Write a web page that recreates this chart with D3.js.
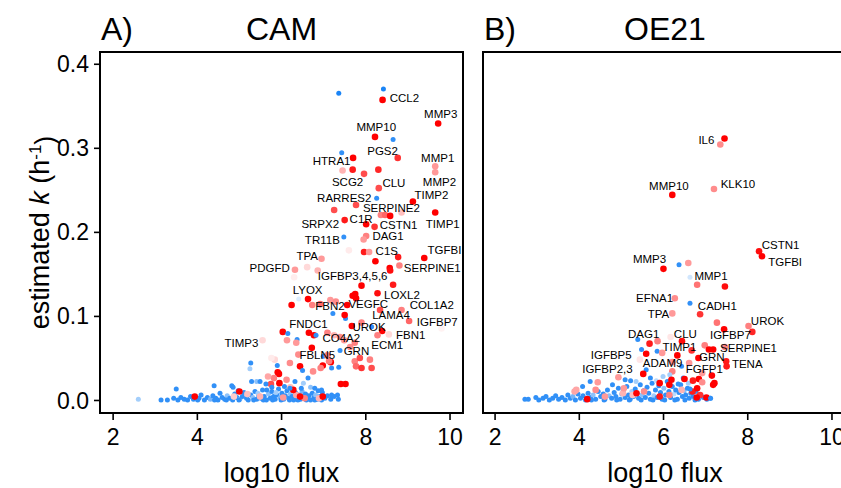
<!DOCTYPE html>
<html><head><meta charset="utf-8">
<script src="https://cdn.jsdelivr.net/npm/d3@7"></script>
<style>
body{margin:0;background:#fff}
svg{display:block}
text{font-family:"Liberation Sans",Arial,Helvetica,sans-serif;fill:#000}
</style>
</head><body>
<svg id="chart" width="841" height="488"></svg>
<script>
// ---------- data ----------
const xTicks = [2, 4, 6, 8, 10];
const yTicks = [0, 0.1, 0.2, 0.3, 0.4];
const panelTags = ["A)", "B)"];
const panelTitles = ["CAM", "OE21"];
const xTitle = "log10 flux";

// [log10 flux, estimated k, fold score (-1 blue .. +1 red)]
const camCloud = [
[3.15,0.000,-0.9],[3.30,0.000,-0.9],[3.45,0.002,-0.9],[3.55,0.000,-0.9],[3.62,0.003,-0.9],[3.70,0.001,-0.9],[3.78,0.000,-0.9],[3.85,0.004,-0.9],[3.92,0.001,-0.9],[4.05,0.002,-0.9],[4.10,0.006,-0.9],[4.18,0.000,-0.9],[4.25,0.003,-0.9],[4.32,0.001,-0.6],[4.38,0.005,-0.9],[4.45,0.002,-0.9],[4.50,0.000,-0.9],[4.55,0.008,-0.9],[4.60,0.003,-0.9],[4.66,0.001,-0.9],[4.72,0.005,-0.5],[4.78,0.002,-0.9],[4.85,0.000,-0.9],[4.90,0.007,-0.9],[4.95,0.003,-0.9],[5.02,0.001,-0.6],[5.08,0.004,-0.9],[5.12,0.009,-0.9],[5.18,0.002,-0.9],[5.22,0.000,-0.9],[5.28,0.006,-0.9],[5.33,0.003,-0.5],[5.38,0.010,-0.9],[5.42,0.001,-0.9],[5.47,0.005,-0.9],[5.52,0.002,-0.9],[5.56,0.012,-0.9],[5.60,0.004,-0.9],[5.65,0.000,-0.9],[5.70,0.007,-0.5],[5.74,0.002,-0.9],[5.78,0.010,-0.9],[5.82,0.004,-0.9],[5.86,0.001,-0.9],[5.90,0.006,-0.9],[5.94,0.013,-0.9],[5.98,0.003,-0.6],[6.02,0.008,-0.9],[6.06,0.001,-0.9],[6.10,0.005,-0.9],[6.14,0.011,-0.9],[6.18,0.002,-0.9],[6.22,0.007,-0.5],[6.26,0.004,-0.9],[6.30,0.000,-0.9],[6.34,0.009,-0.9],[6.38,0.003,-0.9],[6.42,0.006,-0.9],[6.46,0.001,-0.9],[6.50,0.010,-0.6],[6.54,0.004,-0.9],[6.58,0.007,-0.9],[6.62,0.002,-0.9],[6.66,0.005,-0.9],[6.70,0.000,-0.9],[6.74,0.008,-0.9],[6.78,0.003,-0.9],[6.82,0.006,-0.5],[6.86,0.001,-0.9],[6.92,0.004,-0.9],[6.98,0.009,-0.9],[7.04,0.002,-0.9],[7.10,0.005,-0.9],[7.18,0.001,-0.9],[7.26,0.004,-0.9],[7.36,0.001,-0.9],
[4.02,0.000,-0.9],[4.42,0.000,-0.9],[4.70,0.000,-0.9],[5.00,0.000,-0.9],[5.35,0.000,-0.9],[5.58,0.000,-0.9],[5.80,0.000,-0.9],[6.00,0.000,-0.9],[6.20,0.000,-0.9],[6.40,0.000,-0.9],[6.60,0.000,-0.9],[6.80,0.000,-0.9],[6.96,0.000,-0.9],[5.45,0.008,-0.4],[5.88,0.009,-0.4],[6.28,0.012,-0.4],[6.48,0.014,-0.9],[6.08,0.016,-0.9],[5.66,0.012,-0.9],[4.98,0.011,-0.9],[6.88,0.011,-0.9],[6.70,0.015,-0.5],
[5.50,0.004,0.3],[6.05,0.003,0.4],[6.36,0.006,0.35],[6.90,0.002,0.3],[5.20,0.007,0.25],[6.56,0.002,0.5],[4.88,0.004,0.2]
];
const camPoints = [
[7.37,0.365,-1],[8.43,0.370,-1],[8.41,0.357,1],[9.73,0.329,1],[8.23,0.313,1],[8.66,0.310,-0.9],[7.44,0.294,-0.9],[8.77,0.288,0.8],[7.71,0.288,1],[7.46,0.273,0.3],[7.70,0.274,0.9],[7.97,0.269,0.7],[8.31,0.274,0.85],[9.66,0.278,0.4],[9.66,0.271,0.4],[8.32,0.252,0.7],[8.27,0.240,-0.9],[9.13,0.236,1],[7.78,0.232,0.7],[7.26,0.226,0.7],[9.66,0.223,1],[8.37,0.220,0.5],[8.47,0.220,0.6],[8.59,0.219,1],[8.86,0.223,0.25],[7.51,0.214,0.9],[8.02,0.209,1],[8.22,0.206,0.8],[7.49,0.194,-0.9],[8.02,0.195,0.5],[7.96,0.191,0.4],[7.61,0.178,0.08],[7.97,0.176,0.9],[8.09,0.176,0.4],[8.78,0.170,0.9],[9.40,0.169,1],[6.96,0.168,0.4],[8.24,0.165,1],[6.33,0.155,0.4],[6.62,0.158,0.15],[6.31,0.146,0.07],[6.87,0.154,0.3],[8.81,0.160,0.5],[8.58,0.157,1],[8.59,0.154,0.95],[8.66,0.137,0.9],[7.91,0.136,1],[8.29,0.127,0.95],[7.76,0.126,1],[7.78,0.121,1],[6.25,0.113,1],[6.64,0.120,1],[6.42,0.120,-0.15],[6.74,0.113,0.5],[6.93,0.114,0.6],[7.17,0.119,0.4],[7.30,0.117,0.45],[7.57,0.113,1],[7.70,0.124,1],[7.23,0.103,-0.9],[7.53,0.097,-0.9],[7.51,0.101,1],[8.35,0.107,0.7],[8.86,0.107,0.5],[9.04,0.094,0.6],[9.81,0.085,0.05],[7.91,0.092,0.5],[7.68,0.088,1],[8.15,0.087,-0.9],[8.40,0.082,1],[8.29,0.077,0.5],[8.56,0.078,0.15],[6.04,0.081,1],[6.16,0.079,-0.9],[6.38,0.072,-0.9],[6.66,0.080,1],[6.78,0.077,1],[6.83,0.077,-0.9],[7.10,0.080,0.5],[7.26,0.077,0.3],[7.40,0.075,0.45],[7.50,0.071,0.4],[7.64,0.063,0.45],[7.75,0.068,0.5],[7.40,0.059,-0.9],[6.73,0.062,1],[6.36,0.068,0.4],[6.14,0.071,0.4],[5.56,0.071,0.15],[6.41,0.054,0.45],[7.00,0.052,-0.9],[7.10,0.053,0.5],[7.18,0.045,1],[6.99,0.041,1],[6.94,0.038,0.5],[7.37,0.039,-0.9],[7.75,0.046,0.5],[7.87,0.050,0.7],[7.78,0.040,0.6],[7.91,0.038,0.8],[8.11,0.048,0.5],[8.15,0.038,0.7],[6.45,0.040,1],[6.21,0.044,0.45],[5.91,0.041,-0.9],[5.92,0.033,1],[5.95,0.031,1],[5.83,0.026,0.5],[5.69,0.028,0.35],[5.85,0.048,0.15],[5.77,0.050,0.08],[5.28,0.044,-0.9],[5.26,0.037,-0.4],[6.51,0.035,-0.9],[6.64,0.026,-0.9],[7.14,0.046,0.5],[7.20,0.038,-0.9],[7.42,0.019,1],[7.53,0.019,1],[6.33,0.022,-0.9],[5.96,0.020,1],[6.13,0.024,0.45],[6.22,0.015,0.25],[3.95,0.004,1],[2.61,0.001,-0.4],[5.01,0.010,1],[5.76,0.019,0.7],[6.76,0.034,0.45],[6.29,0.012,1],[6.99,0.004,1],[6.45,0.004,1],[3.51,0.013,-0.9],[4.41,0.017,-0.9],[4.83,0.017,-0.9],[5.30,0.022,-0.9],[5.42,0.022,-0.5],[4.86,0.015,-0.9],[5.50,0.022,-0.9],[5.64,0.019,-0.9],[5.78,0.015,-0.9],[6.21,0.014,-0.9],[6.80,0.014,-0.9],[6.96,0.012,-0.9],[7.20,0.006,-0.9],[7.34,0.006,-0.9],[6.53,0.020,-0.4]
];
// [gene, label centre flux, label centre k]
const camLabels = [
["CCL2",8.93,0.359],["MMP3",9.79,0.340],["MMP10",8.26,0.325],["PGS2",8.41,0.296],["HTRA1",7.20,0.284],["MMP1",9.72,0.288],["SCG2",7.58,0.259],["CLU",8.68,0.258],["MMP2",9.76,0.260],["RARRES2",7.50,0.241],["TIMP2",9.57,0.244],["SERPINE2",8.62,0.229],["SRPX2",6.93,0.210],["C1R",7.90,0.216],["CSTN1",8.79,0.208],["TIMP1",9.84,0.210],["TR11B",6.98,0.190],["DAG1",8.54,0.195],["TPA",6.62,0.172],["C1S",8.51,0.177],["TGFBI",9.88,0.179],["PDGFD",5.73,0.157],["SERPINE1",9.59,0.157],["IGFBP3,4,5,6",7.70,0.148],["LYOX",6.63,0.131],["LOXL2",8.87,0.125],["FBN2",7.16,0.112],["VEGFC",8.07,0.114],["COL1A2",9.58,0.113],["LAMA4",8.61,0.101],["IGFBP7",9.71,0.093],["FNDC1",6.65,0.091],["UROK",8.09,0.087],["TIMP3",5.06,0.068],["CO4A2",7.43,0.074],["FBN1",9.08,0.078],["ECM1",8.52,0.065],["FBLN5",6.86,0.054],["GRN",7.79,0.058]
];

const oeCloud = [
[2.72,0.001,-0.9],[2.80,0.001,-0.9],[2.98,0.003,-0.9],[3.05,0.000,-0.9],[3.15,0.002,-0.9],[3.22,0.004,-0.9],[3.30,0.000,-0.9],[3.38,0.002,-0.9],[3.45,0.005,-0.9],[3.52,0.001,-0.9],[3.60,0.003,-0.9],[3.68,0.000,-0.9],[3.74,0.006,-0.9],[3.80,0.002,-0.9],[3.86,0.004,-0.6],[3.92,0.000,-0.9],[3.98,0.007,-0.9],[4.04,0.002,-0.9],[4.10,0.005,-0.9],[4.16,0.000,-0.9],[4.22,0.008,-0.9],[4.28,0.003,-0.9],[4.34,0.006,-0.5],[4.40,0.001,-0.9],[4.46,0.010,-0.9],[4.52,0.004,-0.9],[4.58,0.007,-0.9],[4.62,0.001,-0.9],[4.68,0.012,-0.9],[4.72,0.005,-0.5],[4.78,0.002,-0.9],[4.84,0.009,-0.9],[4.88,0.004,-0.9],[4.94,0.014,-0.9],[4.98,0.001,-0.9],[5.02,0.007,-0.6],[5.06,0.011,-0.9],[5.10,0.003,-0.9],[5.14,0.016,-0.9],[5.18,0.006,-0.9],[5.22,0.001,-0.9],[5.26,0.010,-0.4],[5.30,0.004,-0.9],[5.34,0.013,-0.9],[5.38,0.008,-0.9],[5.42,0.002,-0.9],[5.46,0.018,-0.9],[5.50,0.006,-0.5],[5.54,0.011,-0.9],[5.58,0.003,-0.9],[5.62,0.015,-0.9],[5.66,0.008,-0.9],[5.70,0.001,-0.9],[5.74,0.020,-0.9],[5.78,0.005,-0.4],[5.82,0.012,-0.9],[5.86,0.003,-0.9],[5.90,0.017,-0.9],[5.94,0.009,-0.9],[5.98,0.001,-0.9],[6.02,0.014,-0.5],[6.06,0.006,-0.9],[6.10,0.022,-0.9],[6.14,0.010,-0.9],[6.18,0.003,-0.9],[6.22,0.016,-0.9],[6.26,0.007,-0.3],[6.30,0.012,-0.9],[6.34,0.001,-0.9],[6.38,0.009,-0.9],[6.42,0.018,-0.9],[6.46,0.004,-0.9],[6.50,0.011,-0.5],[6.54,0.006,-0.9],[6.58,0.014,-0.9],[6.62,0.002,-0.9],[6.66,0.008,-0.9],[6.72,0.004,-0.9],[6.78,0.010,-0.9],[6.84,0.001,-0.9],[6.90,0.006,-0.9],[6.96,0.003,-0.9],[7.04,0.001,-0.9],[7.12,0.002,-0.9],
[4.30,0.000,-0.9],[4.60,0.000,-0.9],[4.90,0.000,-0.9],[5.20,0.000,-0.9],[5.48,0.000,-0.9],[5.76,0.000,-0.9],[6.04,0.000,-0.9],[6.28,0.000,-0.9],[6.52,0.000,-0.9],[6.76,0.000,-0.9],[5.36,0.022,-0.4],[5.70,0.026,-0.9],[6.00,0.028,-0.4],[6.20,0.024,-0.5],[5.10,0.024,-0.9],[6.48,0.026,-0.9],[6.60,0.020,-0.4],[5.84,0.023,-0.3],[4.80,0.018,-0.9],
[4.62,0.004,0.4],[5.05,0.008,0.3],[5.55,0.010,0.45],[5.92,0.004,0.9],[6.15,0.006,0.5],[6.44,0.012,0.3],[6.70,0.010,0.9],[4.40,0.012,0.45],[3.90,0.010,0.35],[5.28,0.006,0.25],[6.88,0.006,0.8]
];
const oePoints = [
[7.46,0.311,1],[7.36,0.304,0.45],[7.21,0.251,0.45],[6.22,0.244,1],[8.28,0.177,0.95],[8.35,0.171,1],[6.01,0.156,1],[6.38,0.161,-0.9],[6.60,0.163,0.4],[6.64,0.146,-0.2],[6.81,0.137,0.55],[7.47,0.135,0.95],[6.28,0.121,0.45],[6.64,0.115,-0.9],[6.22,0.103,0.4],[6.88,0.102,0.8],[7.28,0.092,0.55],[7.45,0.084,1],[8.03,0.088,0.5],[8.12,0.081,0.85],[5.40,0.072,-0.9],[5.87,0.070,0.5],[5.68,0.067,0.9],[6.18,0.075,0.1],[6.45,0.070,0.95],[6.68,0.059,0.8],[6.99,0.065,0.5],[7.09,0.060,1],[7.19,0.060,1],[7.47,0.063,0.5],[7.50,0.046,0.9],[7.51,0.040,0.9],[6.84,0.050,1],[5.49,0.060,-0.9],[5.60,0.055,1],[5.86,0.058,-0.9],[5.98,0.056,0.4],[6.34,0.053,1],[5.45,0.048,0.1],[5.60,0.036,-0.9],[5.53,0.031,1],[6.22,0.045,0.45],[6.22,0.034,0.5],[6.62,0.044,0.4],[6.51,0.025,1],[6.85,0.025,1],[6.71,0.023,0.9],[6.93,0.021,0.45],[7.22,0.020,1],[6.36,0.019,-0.9],[4.45,0.021,0.4],[4.94,0.027,0.4],[4.27,0.022,-0.9],[5.23,0.023,-0.9],[6.81,0.014,1],[4.20,0.001,1],[6.80,0.003,1],[6.93,0.032,0.4],[7.16,0.029,1],[7.19,0.018,1],[7.03,0.003,1],[4.09,0.016,-0.9],[3.94,0.012,0.35],[6.15,0.018,1],[5.92,0.020,1],[6.44,0.040,-0.9],[6.64,0.013,-0.9],[7.13,0.002,-0.9],[6.16,0.030,-0.4],[6.20,0.024,1],[5.37,0.008,1],[5.07,0.014,0.4]
];
const oeLabels = [
["IL6",7.03,0.310],["MMP10",6.14,0.255],["KLK10",7.78,0.257],["CSTN1",8.79,0.185],["TGFBI",8.90,0.164],["MMP3",5.68,0.168],["MMP1",7.14,0.148],["EFNA1",5.80,0.121],["CADH1",7.29,0.112],["TPA",5.89,0.103],["UROK",8.48,0.094],["DAG1",5.54,0.079],["CLU",6.53,0.079],["IGFBP7",7.60,0.077],["TIMP1",6.39,0.063],["SERPINE1",8.03,0.062],["IGFBP5",4.77,0.054],["GRN",7.16,0.051],["ADAM9",5.99,0.044],["TENA",8.00,0.043],["IGFBP2,3",4.68,0.037],["FGFP1",6.98,0.037]
];

// ---------- drawing ----------
const svg = d3.select("#chart");
const plotTop = 52, plotBottom = 413;
const y = d3.scaleLinear().domain([-0.0155, 0.414]).range([plotBottom, plotTop]);
const color = d3.scaleLinear().domain([-1, 0, 1]).range(["#1a84f6", "#ffffff", "#ff0000"]).clamp(true);

const panels = [
  {left: 100, right: 463, domain: [1.70, 10.32], cloud: camCloud, pts: camPoints, labels: camLabels, yAxis: true, titleX: 281.5},
  {left: 483, right: 846, domain: [1.725, 10.345], cloud: oeCloud, pts: oePoints, labels: oeLabels, yAxis: false, titleX: 665}
];

panels.forEach((p, i) => {
  const x = d3.scaleLinear().domain(p.domain).range([p.left, p.right]);
  const g = svg.append("g");

  const all = p.cloud.concat(p.pts);
  g.append("g").selectAll("circle").data(all).join("circle")
    .attr("cx", d => x(d[0]))
    .attr("cy", d => y(d[1]))
    .attr("r", d => d[2] > 0 ? 3.3 : 2.5)
    .attr("fill", d => color(d[2]));

  g.append("g").selectAll("text").data(p.labels).join("text")
    .attr("x", d => x(d[1]))
    .attr("y", d => y(d[2]))
    .attr("dy", "0.36em")
    .attr("text-anchor", "middle")
    .style("font-size", "11.5px")
    .text(d => d[0]);

  g.append("rect")
    .attr("x", p.left).attr("y", plotTop)
    .attr("width", p.right - p.left).attr("height", plotBottom - plotTop)
    .attr("fill", "none").attr("stroke", "#000").attr("stroke-width", 2);

  const xa = g.append("g").attr("transform", `translate(0,${plotBottom})`)
    .call(d3.axisBottom(x).tickValues(xTicks).tickSize(7).tickFormat(d3.format("d")));
  xa.select(".domain").remove();
  xa.selectAll("line").attr("stroke-width", 1.6);
  xa.selectAll("text").attr("y", 32).attr("dy", 0).style("font-size", "23px");

  g.append("text").attr("x", p.titleX).attr("y", 482)
    .attr("text-anchor", "middle").style("font-size", "27px").text(xTitle);

  g.append("text").attr("x", p.left + 1).attr("y", 40).style("font-size", "32px").text(panelTags[i]);
  g.append("text").attr("x", p.titleX).attr("y", 40)
    .attr("text-anchor", "middle").style("font-size", "32px").text(panelTitles[i]);

  if (p.yAxis) {
    const ya = g.append("g").attr("transform", `translate(${p.left},0)`)
      .call(d3.axisLeft(y).tickValues(yTicks).tickSize(6).tickFormat(d3.format(".1f")));
    ya.select(".domain").remove();
    ya.selectAll("line").attr("stroke-width", 1.6);
    ya.selectAll("text").attr("x", -11).attr("dy", "0.35em").style("font-size", "23px");
  }
});

const yt = svg.append("text")
  .attr("transform", `translate(49,${(plotTop + plotBottom) / 2}) rotate(-90)`)
  .attr("text-anchor", "middle").style("font-size", "27px");
yt.append("tspan").text("estimated ");
yt.append("tspan").style("font-style", "italic").text("k");
yt.append("tspan").text(" (h");
yt.append("tspan").attr("dy", "-0.45em").style("font-size", "17px").text("-1");
yt.append("tspan").attr("dy", "0.45em").text(")");
</script>
</body></html>
